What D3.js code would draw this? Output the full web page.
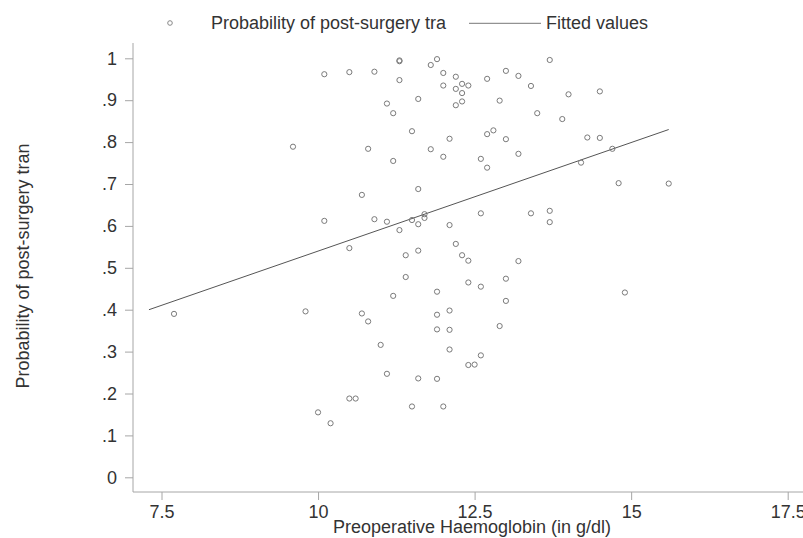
<!doctype html>
<html>
<head>
<meta charset="UTF-8">
<title>Transfusion probability vs Haemoglobin</title>
<script src="https://d3js.org/d3.v7.min.js"></script>
<style>
  body { margin: 0; background: #fff; }
  text { font-family: "Liberation Sans", Arial, sans-serif; fill: #333; }
</style>
</head>
<body>
<svg id="chart" width="803" height="538"></svg>
<script>
// preoperative haemoglobin (g/dl)
var haemoglobin = [
  10.1, 10.5, 9.6, 10.1, 10.9, 11.3, 11.3, 11.8, 11.9, 13.7,
  11.3, 12.0, 12.2, 12.3, 12.4, 12.0, 12.2, 12.3, 12.3, 12.2,
  12.7, 13.0, 13.2, 13.4, 14.0, 12.9, 11.1, 11.6, 11.2, 13.5,
  13.9, 11.5, 12.1, 12.7, 12.8, 13.0, 14.3, 10.8, 11.8, 12.0,
  11.2, 12.6, 12.7, 13.2, 14.2, 10.7, 11.6, 10.9, 11.1, 11.5,
  11.7, 11.7, 11.6, 11.3, 12.1, 12.6, 13.4, 13.7, 13.7, 10.5,
  11.4, 11.6, 12.2, 12.3, 12.4, 13.2, 14.5, 14.5, 14.7, 14.8,
  15.6, 7.7, 9.8, 10.0, 10.2, 10.5, 10.6, 11.4, 12.4, 12.6,
  13.0, 11.2, 11.9, 13.0, 10.7, 10.8, 11.9, 12.1, 11.9, 12.1,
  12.9, 11.0, 12.1, 12.6, 12.4, 12.5, 11.1, 11.6, 11.9, 11.5,
  12.0, 14.9
];
// predicted probability of post-surgery transfusion
var probability = [
  0.962, 0.967, 0.789, 0.612, 0.968, 0.995, 0.993, 0.984, 0.998, 0.996,
  0.948, 0.965, 0.956, 0.939, 0.935, 0.935, 0.927, 0.917, 0.897, 0.888,
  0.951, 0.970, 0.958, 0.934, 0.914, 0.899, 0.892, 0.903, 0.869, 0.869,
  0.855, 0.826, 0.808, 0.819, 0.828, 0.807, 0.811, 0.784, 0.783, 0.765,
  0.755, 0.760, 0.739, 0.772, 0.751, 0.674, 0.688, 0.616, 0.610, 0.614,
  0.628, 0.619, 0.604, 0.590, 0.602, 0.630, 0.630, 0.636, 0.609, 0.547,
  0.530, 0.541, 0.557, 0.530, 0.517, 0.516, 0.921, 0.810, 0.784, 0.702,
  0.701, 0.390, 0.396, 0.155, 0.129, 0.188, 0.188, 0.478, 0.465, 0.455,
  0.474, 0.433, 0.443, 0.421, 0.391, 0.372, 0.388, 0.398, 0.353, 0.352,
  0.361, 0.316, 0.305, 0.291, 0.268, 0.269, 0.247, 0.236, 0.235, 0.169,
  0.169, 0.441
];
// fitted values: end points of the linear fit
var fitX = [7.3, 15.6];
var fitY = [0.40, 0.83];

var xTicks = [7.5, 10, 12.5, 15, 17.5];
var yTicks = [0, 0.1, 0.2, 0.3, 0.4, 0.5, 0.6, 0.7, 0.8, 0.9, 1];

var legendLabels = ["Probability of post-surgery tra", "Fitted values"];
var xTitle = "Preoperative Haemoglobin (in g/dl)";
var yTitle = "Probability of post-surgery tran";

var svg = d3.select("#chart");
var axisColor = "#a6a6a6";

var x = d3.scaleLinear().domain([7.5, 17.5]).range([161.5, 787.7]);
var y = d3.scaleLinear().domain([0, 1]).range([477.3, 58.3]);

var plotLeft = 133, plotBottom = 492, plotTop = 43, plotRight = 803;

// y axis
var yAxis = svg.append("g")
  .attr("transform", "translate(" + plotLeft + ",0)")
  .call(d3.axisLeft(y).tickValues(yTicks).tickSize(8).tickPadding(8)
    .tickFormat(function(d) { return d === 0 ? "0" : d === 1 ? "1" : d3.format(".1f")(d).replace(/^0/, ""); }));
yAxis.select(".domain").remove();
yAxis.append("line").attr("x1", 0).attr("x2", 0).attr("y1", plotTop).attr("y2", plotBottom)
  .attr("stroke", axisColor);

// x axis
var xAxis = svg.append("g")
  .attr("transform", "translate(0," + plotBottom + ")")
  .call(d3.axisBottom(x).tickValues(xTicks).tickSize(8).tickPadding(5)
    .tickFormat(function(d) { return String(d); }));
xAxis.select(".domain").remove();
xAxis.append("line").attr("x1", plotLeft).attr("x2", plotRight).attr("y1", 0).attr("y2", 0)
  .attr("stroke", axisColor);

svg.selectAll(".tick line").attr("stroke", axisColor);
svg.selectAll(".tick text")
  .style("font-family", "'Liberation Sans', Arial, sans-serif")
  .style("font-size", "18px")
  .attr("fill", "#333");

// axis titles
svg.append("text")
  .attr("x", 472).attr("y", 533)
  .attr("text-anchor", "middle")
  .style("font-size", "18px")
  .text(xTitle);

svg.append("text")
  .attr("transform", "translate(29,266) rotate(-90)")
  .attr("text-anchor", "middle")
  .style("font-size", "18px")
  .text(yTitle);

// fitted line
svg.append("line")
  .attr("x1", x(fitX[0])).attr("y1", y(fitY[0]))
  .attr("x2", x(fitX[1])).attr("y2", y(fitY[1]))
  .attr("stroke", "#555").attr("stroke-width", 1);

// scatter points
var pts = haemoglobin.map(function(h, i) { return { h: h, p: probability[i] }; });
svg.append("g").selectAll("circle")
  .data(pts)
  .enter().append("circle")
  .attr("cx", function(d) { return x(d.h); })
  .attr("cy", function(d) { return y(d.p); })
  .attr("r", 2.6)
  .attr("fill", "none")
  .attr("stroke", "#7a7a7a")
  .attr("stroke-width", 1);

// legend
var legend = svg.append("g");
legend.append("circle").attr("cx", 170).attr("cy", 23).attr("r", 2.3)
  .attr("fill", "none").attr("stroke", "#888");
legend.append("text").attr("x", 211).attr("y", 28.5).style("font-size", "18px").text(legendLabels[0]);
legend.append("line").attr("x1", 469).attr("x2", 541).attr("y1", 23.3).attr("y2", 23.3)
  .attr("stroke", "#777").attr("stroke-width", 1);
legend.append("text").attr("x", 546).attr("y", 28.5).style("font-size", "18px").text(legendLabels[1]);
</script>
</body>
</html>
